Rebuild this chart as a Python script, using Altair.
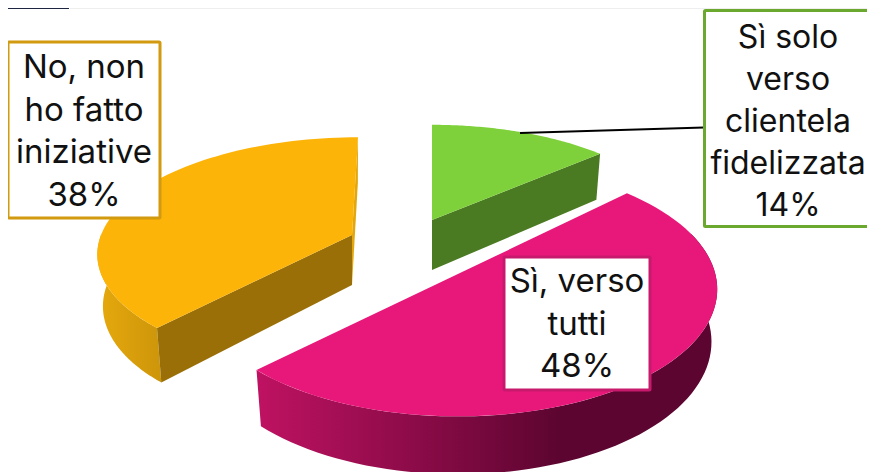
import math
import altair as alt
import pandas as pd

# Values
categories = ["Sì solo verso clientela fidelizzata", "Sì, verso tutti", "No, non ho fatto iniziative"]
shares = [14, 48, 38]
label_lines = [
    ["Sì solo", "verso", "clientela", "fidelizzata", "14%"],
    ["Sì, verso", "tutti", "48%"],
    ["No, non", "ho fatto", "iniziative", "38%"],
]

# Styling / layout of the picture (screen pixels)
OFF = 8
W, H = 859, 464
top_colors = ["#7fd13b", "#e8177a", "#fdb409"]
face_colors = ["#4a7a22", "#7a0a45", "#9a6f08"]
border_colors = ["#6aa82e", "#c81a6c", "#d29a0f"]
slice_centers = [(432, 220), (456, 264), (352, 235)]
slice_rx = [250, 256, 251]
slice_ry = [119, 127, 115]
slice_persp = [0.2, 0.2, 0.15]
DEPTH, SHRINK = 50, 0.978
VANISH_X, LEAN = 432, 0.375
boxes = [(704.5, 10.5, 885, 226.5), (504, 257, 650, 390), (8, 42, 160, 218)]
text_x = [788, 577, 84]
text_y0 = [38, 282, 68]
line_step = [42, 42.5, 42.5]
font_sizes = [32, 33, 33]


def proj(i, angle, bottom=False):
    center = slice_centers[i]
    u, v = math.sin(angle), -math.cos(angle)
    f = 1 + slice_persp[i] * v
    dx = slice_rx[i] * u * f + (VANISH_X - center[0]) * LEAN * 0.2 * (-v)
    dy = slice_ry[i] * v * f
    if bottom:
        return [center[0] + dx * SHRINK, center[1] + dy * SHRINK + DEPTH * f * 1.02]
    return [center[0] + dx, center[1] + dy]


def arc(i, a0, a1, bottom=False, n=70):
    return [proj(i, a0 + (a1 - a0) * k / n, bottom) for k in range(n + 1)]


def feature(ring):
    ring = [[p[0] - OFF, p[1] - OFF] for p in ring]
    ring = ring + [ring[0]]
    return {"type": "Feature", "geometry": {"type": "Polygon", "coordinates": [ring]}, "properties": {}}


def apex_bottom(c):
    return [c[0], c[1] + DEPTH]


# Angles follow from the shares
edges = [0.0]
for s in shares:
    edges.append(edges[-1] + s / sum(shares) * 2 * math.pi)


def shape(feat, fill):
    return alt.Chart(alt.Data(values=[feat])).mark_geoshape(fill=fill, strokeWidth=0, stroke="transparent").project(
        type="identity", scale=1, translate=[0, 0])


layers = []
# orange: thin inner face at its closing edge, long inner face at its opening edge, curved outer wall
c = slice_centers[2]
a0, a1 = edges[2], edges[3]
layers.append(shape(feature([c, proj(2, a1), proj(2, a1, True), apex_bottom(c)]), "#e3a60c"))
layers.append(shape(feature(arc(2, a0, 1.5 * math.pi) + arc(2, 1.5 * math.pi, a0, True)),
                    alt.Gradient(gradient="linear", x1=0, x2=1, y1=0, y2=0,
                                 stops=[alt.GradientStop(color="#e6a90d", offset=0),
                                        alt.GradientStop(color="#cd950a", offset=1)])))
layers.append(shape(feature([c, proj(2, a0), proj(2, a0, True), apex_bottom(c)]), face_colors[2]))

# green: inner face at its closing edge
c = slice_centers[0]
a0, a1 = edges[0], edges[1]
layers.append(shape(feature([c, proj(0, a0), proj(0, a0, True), apex_bottom(c)]), "#5f9a2c"))
layers.append(shape(feature([c, proj(0, a1), proj(0, a1, True), apex_bottom(c)]), face_colors[0]))

# pink: curved outer wall
a0, a1 = edges[1], edges[2]
layers.append(shape(feature(arc(1, math.pi * 0.42, a1) + arc(1, a1, math.pi * 0.42, True)),
                    alt.Gradient(gradient="linear", x1=0, x2=1, y1=0, y2=0,
                                 stops=[alt.GradientStop(color="#bf1262", offset=0),
                                        alt.GradientStop(color="#5c0530", offset=0.66),
                                        alt.GradientStop(color="#5c0530", offset=1)])))

# top surfaces (the pink one spans almost half the pie, so its two straight edges read as one chord)
for i in [2, 0, 1]:
    outline = arc(i, edges[i], edges[i + 1])
    if i != 1:
        outline = [slice_centers[i]] + outline
    layers.append(shape(feature(outline), top_colors[i]))

# leader line
layers.append(alt.Chart(pd.DataFrame({"k": [0]})).mark_rule(color="#000000", strokeWidth=2).encode(
    x=alt.value(520 - OFF), x2=alt.value(704 - OFF), y=alt.value(133 - OFF), y2=alt.value(127.5 - OFF)))

# label boxes and texts
for i, cat in enumerate(categories):
    x0, y0, x1, y1 = boxes[i]
    layers.append(alt.Chart(pd.DataFrame({"category": [cat]})).mark_rect(
        fill="#ffffff", stroke=border_colors[i], strokeWidth=3, cornerRadius=1).encode(
        x=alt.value(x0 - OFF), x2=alt.value(x1 - OFF), y=alt.value(y0 - OFF), y2=alt.value(y1 - OFF)))
    for j, line in enumerate(label_lines[i]):
        layers.append(alt.Chart(pd.DataFrame({"t": [line]})).mark_text(
            font="Inter", fontSize=font_sizes[i], color="#111111", align="center", baseline="middle").encode(
            text="t:N", x=alt.value(text_x[i] - OFF), y=alt.value(text_y0[i] + line_step[i] * j - OFF)))

# strip of the slide image along the top edge
layers.append(alt.Chart(pd.DataFrame({"k": [0]})).mark_rect(fill="#eeeeee").encode(
    x=alt.value(62), x2=alt.value(W), y=alt.value(0), y2=alt.value(1)))
layers.append(alt.Chart(pd.DataFrame({"k": [0]})).mark_rect(fill="#1d2540").encode(
    x=alt.value(0), x2=alt.value(61), y=alt.value(0), y2=alt.value(1)))

chart = alt.layer(*layers).properties(width=W, height=H, padding=0, autosize="none", background="#ffffff").configure_view(strokeWidth=0)
chart.save("out.html", embed_options={"renderer": "svg", "actions": False})
